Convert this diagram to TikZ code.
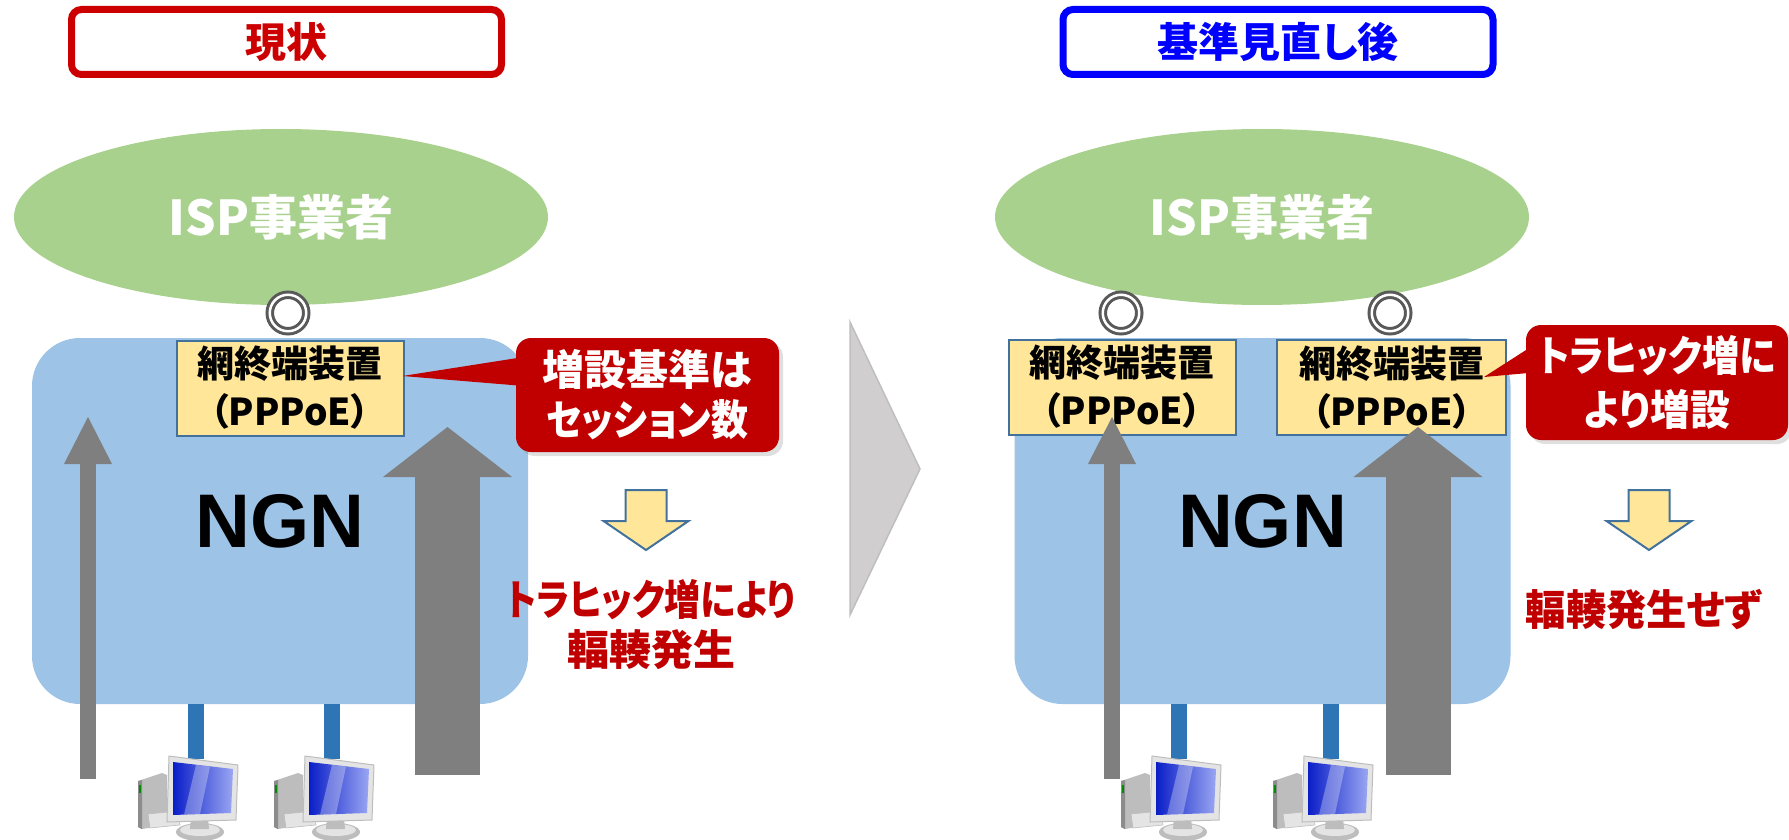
\documentclass[tikz,border=0pt]{standalone}
\usepackage{fontspec}
\usepackage{graphicx}
\usepackage{xcolor}
\usepackage{tikz}
\usetikzlibrary{shapes.geometric, arrows.meta, shadows}

\setmainfont{Noto Sans CJK JP}[RawFeature=+palt]
\newfontfamily\ngnfont{Liberation Sans}

\definecolor{ispgreen}{HTML}{A9D18E}
\definecolor{ngnblue}{HTML}{9DC3E6}
\definecolor{brasfill}{HTML}{FFE699}
\definecolor{brasedge}{HTML}{41719C}
\definecolor{lanblue}{HTML}{2E75B6}
\definecolor{flowgrey}{HTML}{7F7F7F}
\definecolor{portgrey}{HTML}{595959}
\definecolor{notered}{HTML}{C00000}
\definecolor{titlered}{HTML}{CC0000}
\definecolor{titleblue}{HTML}{0000FF}
\definecolor{chevgrey}{HTML}{D0CECE}
\definecolor{chevedge}{HTML}{BFBFBF}
\definecolor{pclight}{HTML}{E4E4E4}
\definecolor{pcgrey}{HTML}{BDBDBD}
\definecolor{pcdark}{HTML}{8C8C8C}
\definecolor{pcblueA}{HTML}{0A1EC8}
\definecolor{pcblueB}{HTML}{9AA6F2}

% kana runs set a little narrower
\newcommand{\narrow}[2]{\scalebox{#1}[1]{#2}}

\begin{document}
\begin{tikzpicture}[x=1pt, y=-1pt,
    title node/.style={draw, line width=7pt, rounded corners=10pt, minimum width=430pt, minimum height=65pt, font=\bfseries\fontsize{41}{48}\selectfont},
    isp node/.style={ellipse, fill=ispgreen, minimum width=534pt, minimum height=176pt, text=white, font=\bfseries\fontsize{48}{50}\selectfont},
    ngn node/.style={fill=ngnblue, rounded corners=48pt, minimum width=496pt, minimum height=366pt, font=\ngnfont\bfseries\fontsize{76}{80}\selectfont},
    bras node/.style={fill=brasfill, draw=brasedge, line width=2pt, minimum width=227pt, minimum height=95pt, inner sep=0pt, align=center, font=\bfseries\fontsize{37}{48}\selectfont},
    port node/.style={circle, draw=portgrey, double=white, line width=3pt, double distance=2.5pt, fill=white, minimum size=36.5pt, inner sep=0pt},
    note node/.style={fill=notered, rounded corners=15pt, text=white, align=center, inner sep=0pt,
        drop shadow={shadow xshift=4pt, shadow yshift=-4pt, opacity=.25}},
    result node/.style={text=notered, align=center, inner sep=0pt, font=\bfseries\fontsize{42}{50}\selectfont},
    lan/.style={lanblue, line width=16pt},
    flow/.style={flowgrey, line width=#1},
    pc/.pic={
        % tower and keyboard behind the screen
        \fill[pcgrey] (-58,22) -- (-34,14) -- (-29,16) -- (-29,66) -- (-54,70) -- (-58,68) -- cycle;
        \fill[pcdark] (-58,22) -- (-54,21) -- (-54,70) -- (-58,68) -- cycle;
        \fill[green!55!black] (-57,26) rectangle (-55,34);
        \fill[pclight, draw=pcgrey, line width=.6pt] (-48,55) -- (-18,52) -- (-16,66) -- (-46,69) -- cycle;
        % foot
        \fill[pcgrey] (4,73) ellipse [x radius=24, y radius=9];
        \fill[pclight] (4,71) ellipse [x radius=20, y radius=6];
        \fill[pcgrey] (-5,58) -- (12,58) -- (13,70) -- (-6,70) -- cycle;
        % monitor
        \filldraw[pclight, draw=pcgrey, line width=1pt] (-27,-3) -- (42,6) -- (40,61) -- (-29,63) -- cycle;
        \shade[left color=pcblueA, right color=pcblueB] (-23,3) -- (37,10) -- (35,54) -- (-23,56) -- cycle;
        \fill[white, opacity=.3] (0,5.8) -- (14,7.6) -- (4,55.2) -- (-12,55.6) -- cycle;
    }]
    \useasboundingbox (0,0) rectangle (1789,840);
    \clip (0,0) rectangle (1789,840);

    % current state
    \node[title node, draw=titlered, text=titlered] (now) at (286.5,42) {現状};
    \node[isp node] (isp L) at (281,217) {ISP事業者};
    \node[ngn node] (ngn L) at (280,521) {NGN};
    \node[port node] (port L) at (288,313) {};
    \node[bras node] (bras L) at (290,388) {網終端装置\\（PPPoE）};

    \coordinate (pc L1) at (196,759);
    \coordinate (pc L2) at (332,759);
    \draw[lan] (pc L1 |- ngn L.south) -- (pc L1);
    \draw[lan] (pc L2 |- ngn L.south) -- (pc L2);
    \pic at (pc L1) {pc};
    \pic at (pc L2) {pc};

    \coordinate (foot L1) at (88,779);
    \coordinate (foot L2) at (447.5,775);
    \draw[flow=16pt, -{Triangle[width=48pt, length=47pt, line width=0pt]}] (foot L1) -- (88,417);
    \draw[flow=65pt, -{Triangle[width=129pt, length=50pt, line width=0pt]}] (foot L2) -- (447.5,427);

    \node[note node, minimum width=263pt, minimum height=114pt, font=\bfseries\fontsize{42}{50}\selectfont] (rule L) at (647.5,395)
        {増設基準は\\\narrow{.88}{セッション数}};
    \fill[notered] ([shift={(8,-38)}]rule L.west) -- ([shift={(-2,-12)}]bras L.east) -- ([shift={(8,-9)}]rule L.west) -- cycle;

    \draw[fill=brasfill, draw=brasedge, line width=2pt] (625.5,490) -- (666.5,490) -- (666.5,521) -- (688.5,521)
        -- (646,550) -- (603.5,521) -- (625.5,521) -- cycle;
    \node[result node] (result L) at (651,625) {\narrow{.86}{トラヒック増により}\\輻輳発生};

    % step between the two states
    \filldraw[fill=chevgrey, draw=chevedge, line width=1.5pt] (850,322) -- (920,469) -- (850,615) -- cycle;

    % after the revision
    \node[title node, draw=titleblue, text=titleblue] (next) at (1278,42) {基準見直し後};
    \node[isp node] (isp R) at (1262,217) {ISP事業者};
    \node[ngn node] (ngn R) at (1262.5,521) {NGN};
    \node[port node] (port R1) at (1121,313) {};
    \node[port node] (port R2) at (1390,313) {};
    \node[bras node] (bras R1) at (1122,387) {網終端装置\\（PPPoE）};
    \node[bras node, minimum width=229pt] (bras R2) at (1391.5,387.5) {網終端装置\\（PPPoE）};

    \coordinate (pc R1) at (1179,759);
    \coordinate (pc R2) at (1331,759);
    \draw[lan] (pc R1 |- ngn R.south) -- (pc R1);
    \draw[lan] (pc R2 |- ngn R.south) -- (pc R2);
    \pic at (pc R1) {pc};
    \pic at (pc R2) {pc};

    \coordinate (foot R1) at (1112,779);
    \coordinate (foot R2) at (1418,775);
    \draw[flow=16pt, -{Triangle[width=48pt, length=47pt, line width=0pt]}] (foot R1) -- (1112,417);
    \draw[flow=65pt, -{Triangle[width=129pt, length=50pt, line width=0pt]}] (foot R2) -- (1418,427);

    \node[note node, minimum width=262pt, minimum height=115pt, font=\bfseries\fontsize{42}{54}\selectfont] (rule R) at (1657,382.5)
        {\narrow{.89}{トラヒック増に}\\\narrow{.95}{より増設}};
    \fill[notered] ([shift={(8,-37.5)}]rule R.west) -- ([shift={(-23,-10.5)}]bras R2.east) -- ([shift={(8,-10)}]rule R.west) -- cycle;

    \draw[fill=brasfill, draw=brasedge, line width=2pt] (1628.5,490) -- (1669.5,490) -- (1669.5,521) -- (1691.5,521)
        -- (1649,550) -- (1606.5,521) -- (1628.5,521) -- cycle;
    \node[result node] (result R) at (1644,610) {\narrow{.96}{輻輳発生せず}};
\end{tikzpicture}
\end{document}
